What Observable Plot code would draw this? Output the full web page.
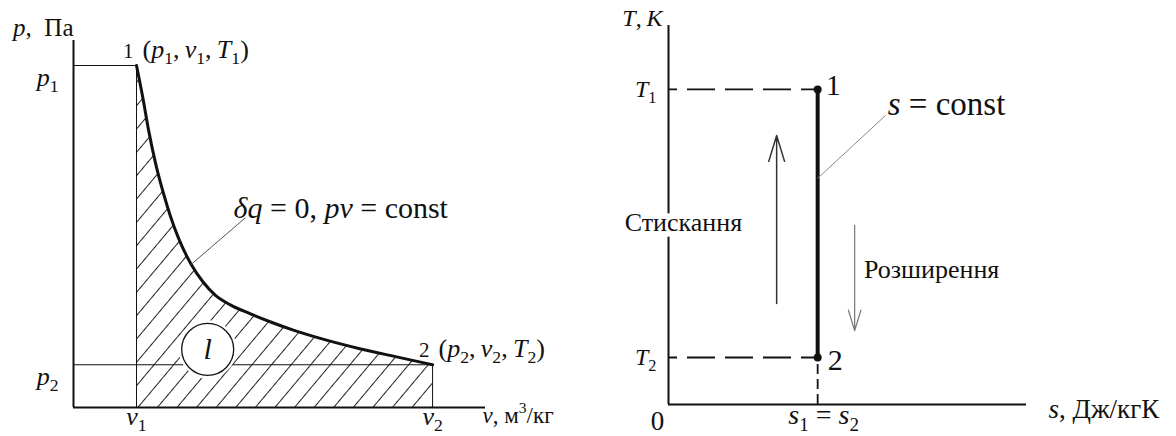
<!DOCTYPE html>
<html lang="uk">
<head>
<meta charset="utf-8">
<title>Адіабатний процес: p–v та T–s діаграми</title>
<script src="https://cdn.jsdelivr.net/npm/d3@7"></script>
<script src="https://cdn.jsdelivr.net/npm/@observablehq/plot@0.6"></script>
<style>
  html, body { margin: 0; padding: 0; background: #fff; }
  #figure { position: relative; width: 1176px; height: 436px; overflow: hidden; }
  #pv, #ts { position: absolute; top: 0; }
  #pv { left: 0; }
  #ts { left: 580px; }
  svg { display: block; }
  #figure svg, #figure svg text { font-family: "Liberation Serif", "Times New Roman", Times, serif !important; }
</style>
</head>
<body>
<div id="figure"><div id="pv"></div><div id="ts"></div></div>
<script>
// ---------- p–v diagram: adiabatic expansion 1 → 2 ----------
// points along the adiabat (arbitrary units)
const vCurve = [1, 1.1, 1.19, 1.3, 1.43, 1.54, 1.67, 1.86, 2.06, 2.25, 2.49, 2.81, 3.13, 3.49, 4.03, 4.56, 5.11, 5.7];
const pCurve = [8, 7.25, 6.5, 5.73, 5.0, 4.47, 3.95, 3.37, 2.93, 2.63, 2.4, 2.19, 2.0, 1.81, 1.57, 1.37, 1.19, 1.0];
const v1 = 1, v2 = 5.7;
const p1 = 8, p2 = 1;
const vAxisEnd = 6.54, pAxisEnd = 8.585;
const pTicks = [p1, p2];
const pTickLabels = ["*p*_1", "*p*_2"];
const vTicks = [v1, v2];
const vTickLabels = ["*v*_1", "*v*_2"];
const pvStateNames = ["1", "2"];
const pvStateLabels = ["(*p*_1,\u2009*v*_1,\u2009*T*_1)", "(*p*_2,\u2009*v*_2,\u2009*T*_2)"];
const pvAxisTitles = ["*p*,\u2002Па", "*v*, м^3/кг"];
const pvCurveNote = "*δq* = 0, *pv* = const";
const pvNoteAt = {v: 2.54, p: 4.44};       // where the note text starts
const pvLeader = {v1: 1.87, p1: 3.35, v2: 2.73, p2: 4.44};
const workSymbol = "*l*";
const workAt = {v: 2.13, p: 1.36};

// ---------- T–s diagram: isentropic process ----------
const s1 = 1;
const T1 = 6.7, T2 = 1;
const sAxisEnd = 2.4, TAxisEnd = 8.06;
const sProcess = [s1, s1];
const TProcess = [T1, T2];
const tsStateNames = ["1", "2"];
const TTicks = [T1, T2];
const TTickLabels = ["*T*_1", "*T*_2"];
const sTickLabel = "*s*_1 = *s*_2";
const tsAxisTitles = ["*T*,\u2009*K*", "*s*, Дж/кгК"];
const tsLineNote = "*s* = const";
const tsLeader = {s1: 1, T1: 4.81, s2: 1.456, T2: 6.15};
const compression = {s: 0.725, Tfrom: 2.15, Tto: 5.72, label: "Стискання", labelS: 0.1, labelT: 3.7};
const expansion = {s: 1.248, Tfrom: 3.81, Tto: 1.57, label: "Розширення", labelS: 1.31, labelT: 2.68};

const serif = "Liberation Serif, Times New Roman, Times, serif";
const ink = "#111";

// Turns a tiny markup (*italic*, _sub, ^sup) into SVG tspans
function setRichText(svg) {
  d3.select(svg).selectAll("text").each(function () {
    const src = this.textContent;
    if (!/[*_^]/.test(src)) return;
    const size = parseFloat(getComputedStyle(this).fontSize);
    const runs = [];
    let italic = false;
    for (let i = 0; i < src.length; ++i) {
      const c = src[i];
      if (c === "*") { italic = !italic; continue; }
      let level = 0, ch = c;
      if ((c === "_" || c === "^") && i + 1 < src.length) { level = c === "_" ? -1 : 1; ch = src[++i]; }
      const last = runs[runs.length - 1];
      if (last && last.italic === italic && last.level === level) last.text += ch;
      else runs.push({text: ch, italic, level});
    }
    this.textContent = "";
    let offset = 0;
    for (const r of runs) {
      const t = d3.select(this).append("tspan").text(r.text);
      if (r.italic) t.attr("font-style", "italic");
      const target = r.level < 0 ? 0.24 * size : r.level > 0 ? -0.4 * size : 0;
      if (target !== offset) t.attr("dy", (target - offset).toFixed(2));
      offset = target;
      if (r.level) t.attr("font-size", (0.68 * size).toFixed(2));
    }
  });
}

function addHatch(svg) {
  const defs = d3.select(svg).insert("defs", ":first-child");
  const pat = defs.append("pattern")
    .attr("id", "hatch")
    .attr("patternUnits", "userSpaceOnUse")
    .attr("width", 15).attr("height", 15)
    .attr("patternTransform", "rotate(40)");
  pat.append("line")
    .attr("x1", 7.5).attr("y1", -1).attr("x2", 7.5).attr("y2", 16)
    .attr("stroke", "#222").attr("stroke-width", 1);
}

const txt = (data, options) => Plot.text(data, {fill: ink, fontFamily: serif, ...options});

// ---------- left: p–v ----------
const curve = vCurve.map((v, i) => ({v, p: pCurve[i]}));
const pvStates = [{v: v1, p: p1}, {v: v2, p: p2}].map((d, i) => ({...d, name: pvStateNames[i], label: pvStateLabels[i]}));

const pv = Plot.plot({
  width: 580, height: 436,
  marginLeft: 73, marginRight: 95, marginTop: 40, marginBottom: 29,
  x: {domain: [0, vAxisEnd]},
  y: {domain: [0, pAxisEnd]},
  style: {fontFamily: serif, background: "transparent", color: ink, overflow: "visible"},
  marks: [
    Plot.areaY(curve, {x: "v", y: "p", curve: "monotone-x", fill: "url(#hatch)"}),
    Plot.ruleY([p1], {x1: 0, x2: v1, stroke: ink, strokeWidth: 1}),
    Plot.ruleY([p2], {x1: 0, x2: v2, stroke: ink, strokeWidth: 1}),
    Plot.ruleX([v1], {y1: 0, y2: p1, stroke: ink, strokeWidth: 1}),
    Plot.ruleX([v2], {y1: 0, y2: p2, stroke: ink, strokeWidth: 1}),
    // work symbol in a circle
    Plot.dot([workAt], {x: "v", y: "p", r: 29, fill: "white", stroke: null}),
    Plot.dot([workAt], {x: "v", y: "p", r: 26, fill: "white", stroke: ink, strokeWidth: 1.3}),
    txt([workAt], {x: "v", y: "p", text: () => workSymbol, fontSize: 30}),
    // adiabat
    Plot.line(curve, {x: "v", y: "p", curve: "monotone-x", stroke: ink, strokeWidth: 3}),
    Plot.link([pvLeader], {x1: "v1", y1: "p1", x2: "v2", y2: "p2", stroke: "#555", strokeWidth: 1}),
    txt([pvNoteAt], {x: "v", y: "p", text: () => pvCurveNote, textAnchor: "start", lineAnchor: "bottom", fontSize: 30}),
    // axes
    Plot.ruleX([0], {y1: 0, y2: pAxisEnd, stroke: ink, strokeWidth: 2}),
    Plot.ruleY([0], {x1: 0, x2: vAxisEnd, stroke: ink, strokeWidth: 2}),
    Plot.axisY({ticks: pTicks, tickFormat: (d) => pTickLabels[pTicks.indexOf(d)], tickSize: 0, tickPadding: 15, fontSize: 26, fontFamily: serif, dy: 12, label: null}),
    Plot.axisX({ticks: vTicks, tickFormat: (d) => vTickLabels[vTicks.indexOf(d)], tickSize: 0, tickPadding: 1, fontSize: 26, fontFamily: serif, dy: -2, label: null}),
    txt([{v: 0, p: pAxisEnd}], {x: "v", y: "p", text: () => pvAxisTitles[0], textAnchor: "end", lineAnchor: "bottom", dy: -5, fontSize: 25}),
    txt([{v: vAxisEnd, p: 0}], {x: "v", y: "p", text: () => pvAxisTitles[1], textAnchor: "start", lineAnchor: "bottom", dx: -3, dy: 15, fontSize: 23}),
    // state points
    txt(pvStates, {x: "v", y: "p", text: "name", textAnchor: "end", lineAnchor: "bottom", dx: -3, dy: -8, fontSize: 21}),
    txt(pvStates, {x: "v", y: "p", text: "label", textAnchor: "start", lineAnchor: "bottom", dx: 6, dy: -8, fontSize: 26})
  ]
});
document.getElementById("pv").append(pv);
addHatch(pv);
setRichText(pv);

// ---------- right: T–s ----------
const process = sProcess.map((s, i) => ({s, T: TProcess[i], name: tsStateNames[i]}));

const ts = Plot.plot({
  width: 596, height: 436,
  marginLeft: 88, marginRight: 150, marginTop: 25, marginBottom: 32,
  x: {domain: [0, sAxisEnd]},
  y: {domain: [0, TAxisEnd]},
  style: {fontFamily: serif, background: "transparent", color: ink, overflow: "visible"},
  marks: [
    Plot.ruleY(TTicks, {x1: 0, x2: s1, stroke: ink, strokeWidth: 1.8, strokeDasharray: "28,10", strokeDashoffset: 19}),
    Plot.ruleX([s1], {y1: 0, y2: T2, stroke: ink, strokeWidth: 1.8, strokeDasharray: "10,5"}),
    Plot.line(process, {x: "s", y: "T", stroke: ink, strokeWidth: 4}),
    Plot.dot(process, {x: "s", y: "T", r: 4, fill: ink, stroke: null}),
    Plot.arrow([compression], {x1: "s", y1: "Tfrom", x2: "s", y2: "Tto", stroke: "#333", strokeWidth: 1.5, headLength: 27, headAngle: 34}),
    Plot.arrow([expansion], {x1: "s", y1: "Tfrom", x2: "s", y2: "Tto", stroke: "#777", strokeWidth: 1.2, headLength: 27, headAngle: 34}),
    Plot.link([tsLeader], {x1: "s1", y1: "T1", x2: "s2", y2: "T2", stroke: "#888", strokeWidth: 1}),
    // axes
    Plot.ruleX([0], {y1: 0, y2: TAxisEnd, stroke: ink, strokeWidth: 2}),
    Plot.ruleY([0], {x1: 0, x2: sAxisEnd, stroke: ink, strokeWidth: 2}),
    Plot.axisY({ticks: TTicks, tickFormat: (d) => TTickLabels[TTicks.indexOf(d)], tickSize: 0, tickPadding: 12, fontSize: 24, fontFamily: serif, label: null}),
    Plot.axisX({ticks: [s1], tickFormat: () => sTickLabel, tickSize: 0, tickPadding: 0, fontSize: 28, fontFamily: serif, dx: 6, label: null}),
    txt([{s: 0, T: 0}], {x: "s", y: "T", text: () => "0", lineAnchor: "top", dx: -11, dy: 6, fontSize: 27}),
    txt([{s: 0, T: TAxisEnd}], {x: "s", y: "T", text: () => tsAxisTitles[0], textAnchor: "end", lineAnchor: "bottom", dx: -6, dy: 0, fontSize: 24}),
    txt([{s: sAxisEnd, T: 0}], {x: "s", y: "T", text: () => tsAxisTitles[1], textAnchor: "start", lineAnchor: "bottom", dx: 22, dy: 13, fontSize: 27}),
    // labels
    txt([compression], {x: "labelS", y: "labelT", text: "label", lineAnchor: "bottom", fontSize: 26, stroke: "white", strokeWidth: 12, paintOrder: "stroke"}),
    txt([expansion], {x: "labelS", y: "labelT", text: "label", textAnchor: "start", lineAnchor: "bottom", fontSize: 26}),
    txt([tsLeader], {x: "s2", y: "T2", text: () => tsLineNote, textAnchor: "start", lineAnchor: "bottom", dx: 2, fontSize: 33}),
    txt(process.slice(0, 1), {x: "s", y: "T", text: "name", textAnchor: "start", lineAnchor: "bottom", dx: 8, dy: 6, fontSize: 30}),
    txt(process.slice(1), {x: "s", y: "T", text: "name", textAnchor: "start", lineAnchor: "bottom", dx: 10, dy: 13, fontSize: 30})
  ]
});
document.getElementById("ts").append(ts);
setRichText(ts);
</script>
</body>
</html>
